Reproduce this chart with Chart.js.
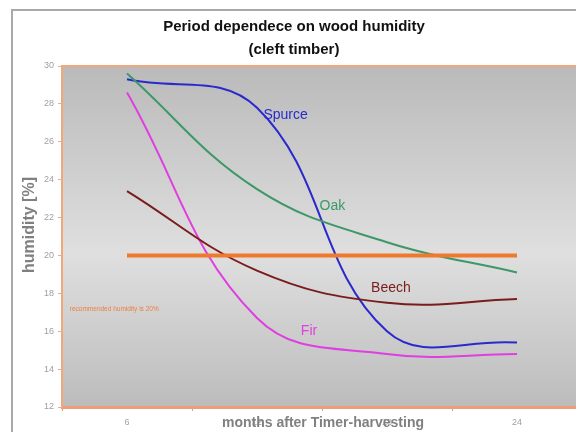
<!DOCTYPE html>
<html>
<head>
<meta charset="utf-8">
<title>Period dependence on wood humidity</title>
<script src="https://cdn.jsdelivr.net/npm/chart.js@4/dist/chart.umd.min.js"></script>
<style>
    html, body { margin: 0; padding: 0; background: #fff; overflow: hidden; }
    #wrap { width: 582px; height: 432px; }
</style>
</head>
<body>
<div id="wrap"><canvas id="humidityChart" width="582" height="432"></canvas></div>
<script>
// Données : humidité du bois fendu selon les mois après l'abattage
const months = ['6', '12', '18', '24'];
const spruce = [29.3, 27.8, 16.0, 15.4];
const oak = [29.6, 23.5, 20.7, 19.1];
const beech = [23.4, 19.2, 17.5, 17.7];
const fir = [28.6, 16.7, 14.8, 14.8];
const recommended = [20, 20, 20, 20];
const yTicks = [12, 14, 16, 18, 20, 22, 24, 26, 28, 30];

const FONT = '"Liberation Sans", Arial, sans-serif';

// Cadre, fond dégradé et titres
const decorPlugin = {
    id: 'decor',
    beforeDraw(chart) {
        const { ctx, chartArea: a, width, height } = chart;
        ctx.save();
        ctx.fillStyle = '#fff';
        ctx.fillRect(0, 0, width, height);

        // bordure grise du graphique
        ctx.strokeStyle = '#a9a9a9';
        ctx.lineWidth = 2;
        ctx.beginPath();
        ctx.moveTo(12, height);
        ctx.lineTo(12, 10);
        ctx.lineTo(width, 10);
        ctx.stroke();

        // fond gris en dégradé
        const g = ctx.createLinearGradient(0, a.top, 0, a.bottom);
        g.addColorStop(0, '#bababa');
        g.addColorStop(0.55, '#dfdfdf');
        g.addColorStop(1, '#bcbcbc');
        ctx.fillStyle = g;
        ctx.fillRect(a.left, a.top, a.right - a.left, a.bottom - a.top);

        ctx.strokeStyle = '#f2a77a';
        ctx.lineWidth = 2;
        ctx.strokeRect(a.left, a.top, a.right - a.left, a.bottom - a.top);

        // titre
        ctx.fillStyle = '#111';
        ctx.font = 'bold 15px ' + FONT;
        ctx.textAlign = 'center';
        ctx.textBaseline = 'middle';
        ctx.fillText('Period dependece on wood humidity', 294, 27);
        ctx.fillText('(cleft timber)', 294, 50);
        ctx.restore();
    },
    afterDatasetsDraw(chart) {
        const { ctx, scales: { x, y } } = chart;
        ctx.save();
        ctx.textBaseline = 'middle';
        ctx.textAlign = 'center';
        ctx.font = '14px ' + FONT;
        const tags = [
            ['Spurce', '#2a2acc', 1.22, 27.4],
            ['Oak', '#3d9868', 1.58, 22.6],
            ['Beech', '#7a1c1c', 2.03, 18.3],
            ['Fir', '#e03ee0', 1.4, 16.0]
        ];
        tags.forEach(([txt, col, i, v]) => {
            ctx.fillStyle = col;
            ctx.fillText(txt, x.getPixelForValue(i), y.getPixelForValue(v));
        });
        ctx.font = '6.5px ' + FONT;
        ctx.textAlign = 'left';
        ctx.fillStyle = '#ef8040';
        ctx.fillText('recommended humidity is 20%', x.getPixelForValue(-0.44), y.getPixelForValue(17.15));
        ctx.restore();
    },
    afterDraw(chart) {
        const { ctx } = chart;
        ctx.save();
        ctx.fillStyle = '#808080';
        ctx.font = 'bold 14px ' + FONT;
        ctx.textAlign = 'center';
        ctx.textBaseline = 'middle';
        ctx.fillText('months after Timer-harvesting', 323, 423);

        ctx.translate(30, 225);
        ctx.rotate(-Math.PI / 2);
        ctx.font = 'bold 16px ' + FONT;
        ctx.fillText('humidity [%]', 0, 0);
        ctx.restore();
    }
};

function serie(data, color, width, tension) {
    return {
        data: data,
        borderColor: color,
        borderWidth: width,
        pointRadius: 0,
        tension: tension,
        fill: false
    };
}

const ctx = document.getElementById('humidityChart').getContext('2d');
new Chart(ctx, {
    type: 'line',
    data: {
        labels: months,
        datasets: [
            serie(recommended, '#ef7a2c', 4, 0),
            serie(oak, '#3d9868', 2, 0.4),
            serie(beech, '#7a1c1c', 2, 0.4),
            serie(spruce, '#2a2acc', 2, 0.4),
            serie(fir, '#e03ee0', 2, 0.4)
        ]
    },
    options: {
        responsive: false,
        animation: false,
        devicePixelRatio: 1,
        layout: { padding: { top: 66, left: 0, right: 0, bottom: 0 } },
        plugins: {
            legend: { display: false },
            tooltip: { enabled: false }
        },
        scales: {
            x: {
                offset: true,
                grid: {
                    offset: true,
                    drawOnChartArea: false,
                    tickLength: 4,
                    color: '#d8a283'
                },
                border: { color: '#ec9e78', width: 3 },
                ticks: {
                    color: '#a0a0a0',
                    font: { family: FONT, size: 9 },
                    padding: 6,
                    maxRotation: 0
                },
                afterFit(s) { s.height = 25; }
            },
            y: {
                min: 12,
                max: 30,
                afterBuildTicks(s) { s.ticks = yTicks.map(v => ({ value: v })); },
                grid: {
                    drawOnChartArea: false,
                    tickLength: 4,
                    color: '#e8b090'
                },
                border: { color: '#f2a77a', width: 2 },
                ticks: {
                    color: '#a0a0a0',
                    font: { family: FONT, size: 9 },
                    padding: 4
                },
                afterFit(s) { s.width = 62; }
            }
        }
    },
    plugins: [decorPlugin]
});
</script>
</body>
</html>
